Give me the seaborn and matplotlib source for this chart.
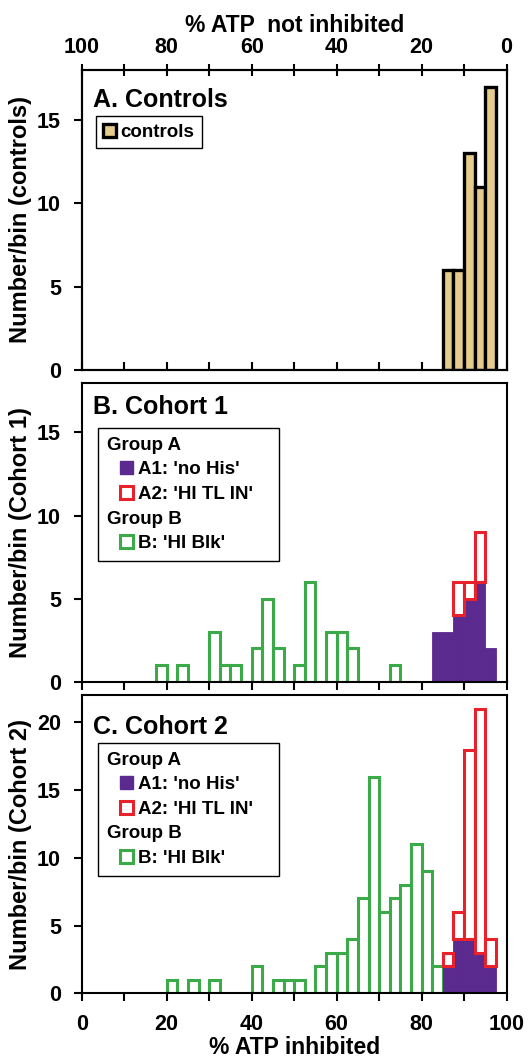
import numpy as np
import pandas as pd
import matplotlib
matplotlib.use("Agg")
import matplotlib.pyplot as plt
import matplotlib.patches as mpatches
from matplotlib.colors import to_rgba
from matplotlib.legend_handler import HandlerPatch
from matplotlib.ticker import MultipleLocator
import seaborn as sns

# histogram bins are 2.5 % wide; *_bins hold the left edge of each non-empty bin
bin_width = 2.5

controls_bins = [85, 87.5, 90, 92.5, 95]
controls_counts = [6, 6, 13, 11, 17]

c1_blk_bins = [17.5, 22.5, 30, 32.5, 35, 40, 42.5, 45, 50, 52.5, 57.5, 60, 62.5, 72.5]
c1_blk_counts = [1, 1, 3, 1, 1, 2, 5, 2, 1, 6, 3, 3, 2, 1]
c1_nohis_bins = [82.5, 85, 87.5, 90, 92.5, 95]
c1_nohis_counts = [3, 3, 4, 5, 6, 2]
c1_tlin_bins = [87.5, 90, 92.5]
c1_tlin_counts = [2, 1, 3]

c2_blk_bins = [20, 25, 30, 40, 45, 47.5, 50, 55, 57.5, 60, 62.5, 65, 67.5,
               70, 72.5, 75, 77.5, 80, 82.5]
c2_blk_counts = [1, 1, 1, 2, 1, 1, 1, 2, 3, 3, 4, 7, 16, 6, 7, 8, 11, 9, 2]
c2_nohis_bins = [85, 87.5, 90, 92.5, 95]
c2_nohis_counts = [2, 4, 4, 3, 2]
c2_tlin_bins = [85, 87.5, 90, 92.5, 95]
c2_tlin_counts = [1, 2, 14, 18, 2]

tan = "#E6CC8C"
purple = "#5B2A8E"
red = "#E8212B"
green = "#3BAA48"

sns.set_style("ticks")
plt.rcParams["font.family"] = ["Liberation Sans", "DejaVu Sans"]
plt.rcParams["font.weight"] = "bold"
plt.rcParams["axes.labelweight"] = "bold"
plt.rcParams["axes.linewidth"] = 1.5
plt.rcParams["axes.edgecolor"] = "black"
plt.rcParams["text.color"] = "black"
plt.rcParams["axes.labelcolor"] = "black"
plt.rcParams["xtick.color"] = "black"
plt.rcParams["ytick.color"] = "black"

LEG_FS = 13.5


def to_frame(bins, counts, group):
    return pd.DataFrame({"pct": np.asarray(bins) + bin_width / 2, "n": counts, "group": group})


def drop_empty(ax):
    for p in list(ax.patches):
        if p.get_height() == 0:
            p.remove()


def indented_square(legend, orig_handle, xdescent, ydescent, width, height, fontsize):
    return mpatches.Rectangle((width - height - xdescent, -ydescent), height, height)


def cohort_panel(ax, blk_bins, blk_counts, nohis_bins, nohis_counts, tlin_bins, tlin_counts):
    sns.histplot(data=to_frame(blk_bins, blk_counts, "B"), x="pct", weights="n",
                 binwidth=bin_width, binrange=(0, 100), color="white",
                 edgecolor=green, linewidth=2.2, alpha=1, ax=ax)
    grp = pd.concat([to_frame(nohis_bins, nohis_counts, "A1"),
                     to_frame(tlin_bins, tlin_counts, "A2")])
    # seaborn stacks the last hue level at the bottom
    sns.histplot(data=grp, x="pct", weights="n", hue="group", hue_order=["A2", "A1"],
                 multiple="stack", binwidth=bin_width, binrange=(0, 100),
                 palette={"A1": purple, "A2": red}, alpha=1, legend=False, ax=ax)
    for p in ax.patches:
        fc = p.get_facecolor()
        if np.allclose(fc, to_rgba(red)):
            p.set_facecolor("white")
            p.set_edgecolor(red)
            p.set_linewidth(2.2)
            p.set_zorder(3)
        elif np.allclose(fc, to_rgba(purple)):
            p.set_edgecolor(purple)
            p.set_linewidth(0.6)
            p.set_zorder(2)
    drop_empty(ax)

    blank = mpatches.Patch(facecolor="none", edgecolor="none")
    handles = [blank,
               mpatches.Patch(facecolor=purple, edgecolor=purple),
               mpatches.Patch(facecolor="white", edgecolor=red, linewidth=2.2),
               blank,
               mpatches.Patch(facecolor="white", edgecolor=green, linewidth=2.2)]
    labels = ["Group A", "A1: 'no His'", "A2: 'HI TL IN'", "Group B", "B: 'HI Blk'"]
    return handles, labels


fig = plt.figure(figsize=(5.31, 10.6), dpi=100)
axA = fig.add_axes([0.154, 0.651, 0.800, 0.283])
axB = fig.add_axes([0.154, 0.357, 0.800, 0.282])
axC = fig.add_axes([0.154, 0.063, 0.800, 0.281])

# A. controls
sns.histplot(data=to_frame(controls_bins, controls_counts, "controls"), x="pct",
             weights="n", binwidth=bin_width, binrange=(0, 100), color=tan,
             edgecolor="black", linewidth=2.4, alpha=1, ax=axA)
drop_empty(axA)
legA = axA.legend(handles=[mpatches.Patch(facecolor=tan, edgecolor="black", linewidth=2.4)],
                  labels=["controls"], loc="upper left", bbox_to_anchor=(0.033, 0.846),
                  borderaxespad=0, fontsize=LEG_FS, handlelength=0.7, handleheight=0.7,
                  handletextpad=0.2, borderpad=0.4, fancybox=False, framealpha=1,
                  edgecolor="black")
legA.get_frame().set_linewidth(1.0)

fs_px = LEG_FS * 100 / 72
for ax, data, anchor in [
        (axB, (c1_blk_bins, c1_blk_counts, c1_nohis_bins, c1_nohis_counts,
               c1_tlin_bins, c1_tlin_counts), 0.848),
        (axC, (c2_blk_bins, c2_blk_counts, c2_nohis_bins, c2_nohis_counts,
               c2_tlin_bins, c2_tlin_counts), 0.840)]:
    handles, labels = cohort_panel(ax, *data)
    leg = ax.legend(handles=handles, labels=labels, loc="upper left",
                    bbox_to_anchor=(0.039, 0.0, 0.426, anchor), mode="expand",
                    borderaxespad=0, fontsize=LEG_FS, handlelength=1.4,
                    handleheight=0.7, handletextpad=0.25, borderpad=0.45,
                    labelspacing=0.4, fancybox=False, framealpha=1, edgecolor="black",
                    handler_map={mpatches.Patch: HandlerPatch(patch_func=indented_square)})
    leg.get_frame().set_linewidth(1.0)
    for txt in leg.get_texts():
        if txt.get_text().startswith("Group"):
            txt.set_x(-(1.4 + 0.25) * fs_px)

titles = ["A. Controls", "B. Cohort 1", "C. Cohort 2"]
ylabels = ["Number/bin (controls)", "Number/bin (Cohort 1)", "Number/bin (Cohort 2)"]
ylims = [18, 18, 22]
title_y = [0.94, 0.96, 0.935]
for ax, t, yl, lim, ty in zip([axA, axB, axC], titles, ylabels, ylims, title_y):
    ax.set_xlim(0, 100)
    ax.set_ylim(0, lim)
    ax.xaxis.set_major_locator(MultipleLocator(20))
    ax.xaxis.set_minor_locator(MultipleLocator(10))
    ax.yaxis.set_major_locator(MultipleLocator(5))
    ax.tick_params(axis="y", direction="out", length=6, width=1.5, pad=9,
                   labelsize=15.5)
    ax.set_ylabel(yl, fontsize=17)
    ax.yaxis.set_label_coords(-0.118, 0.5)
    ax.set_xlabel("")
    ax.text(0.027, ty, t, transform=ax.transAxes, ha="left", va="top",
            fontsize=18, fontweight="bold")
    for s in ax.spines.values():
        s.set_visible(True)
        s.set_linewidth(1.5)
        s.set_color("black")

axA.tick_params(axis="x", which="both", direction="in", length=6, width=1.5,
                labelbottom=False)
axB.tick_params(axis="x", which="both", direction="out", length=6, width=1.5,
                labelbottom=False)
axC.tick_params(axis="x", which="both", direction="out", length=6, width=1.5,
                labelsize=15.5, pad=9)
axC.set_xlabel("% ATP inhibited", fontsize=16.5, labelpad=1)

top = axA.twiny()
top.set_xlim(100, 0)
top.xaxis.set_major_locator(MultipleLocator(20))
top.xaxis.set_minor_locator(MultipleLocator(10))
top.tick_params(axis="x", which="both", direction="inout", length=9, width=1.5,
                labelsize=15.5, pad=4)
top.set_xlabel("% ATP  not inhibited", fontsize=16.5, labelpad=4)

fig.savefig("out.png", dpi=100)
